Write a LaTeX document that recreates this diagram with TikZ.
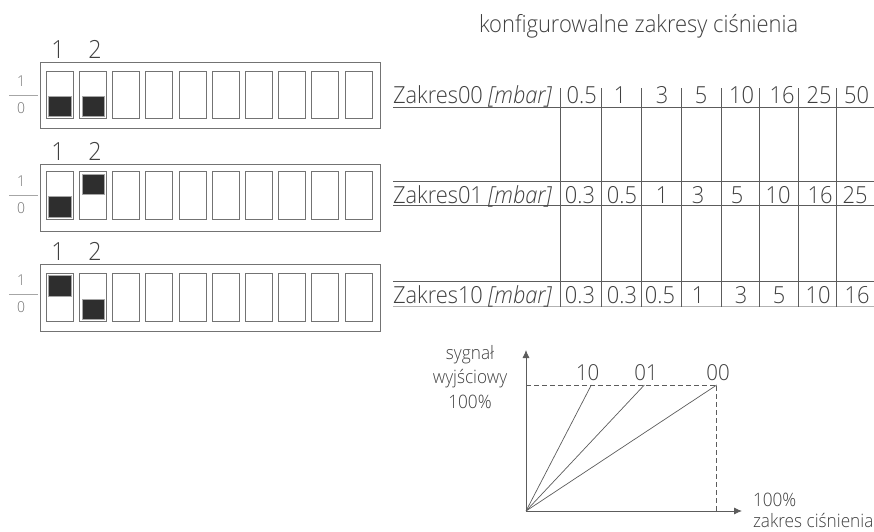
\documentclass[tikz,border=0pt]{standalone}
\usepackage{fontspec}
\setmainfont{Open Sans Light}[ItalicFont={Open Sans Light Italic},FakeStretch=0.93]
\usetikzlibrary{arrows.meta}
\definecolor{ink}{gray}{0.25}
\definecolor{rule}{gray}{0.36}
\definecolor{boxline}{gray}{0.45}
\tikzset{
  txt/.style={inner sep=0pt,outer sep=0pt,text=ink,anchor=base},
  head/.style={txt,font=\fontsize{23.6}{26}\selectfont},
  cell/.style={txt,font=\fontsize{23.5}{26}\selectfont},
  digitlab/.style={txt,font=\fontsize{25}{28}\selectfont},
  curvelab/.style={txt,font=\fontsize{22}{24}\selectfont},
  axlab/.style={txt,font=\fontsize{18.5}{20}\selectfont},
  tick/.style={txt,font=\fontsize{15}{16}\selectfont,text=ink!75},
  rulerline/.style={draw=rule,line width=0.9pt},
  chart/.style={draw=rule,line width=0.8pt},
  dipbox/.style={draw=boxline,line width=0.9pt,fill=white},
  knob/.style={draw=gray!70,line width=0.5pt,fill=black!82},
}
\begin{document}
\begin{tikzpicture}[x=1pt,y=-1pt]
\useasboundingbox (0,0) rectangle (874,531);
% DIP switches
\foreach \n/\ty/\by/\swt/\swb/\lin/\la/\lb/\kax/\kay/\kbx/\kby in {
  a/62/128.7/71/118.7/95.7/86/113.5/48.7/96.3/81.9/96.3,
  b/164/231/171/219/195.3/186.5/213/48.7/196.7/81.9/174.3,
  c/264.3/331/273.7/321.7/294.7/285.5/312/48.7/275.7/81.9/299.3}{
  \draw[dipbox] (40,\ty) rectangle (380.5,\by);
  \foreach \i in {0,...,9}{
    \draw[dipbox] ({46.3+33.2*\i},\swt) rectangle ++(26.9,{\swb-\swt});
  }
  \fill[knob] (\kax,\kay) rectangle ++(22.6,20.2);
  \fill[knob] (\kbx,\kby) rectangle ++(22.6,20.2);
  \draw[rulerline,draw=gray!70] (9.3,\lin) -- (37.7,\lin);
  \node[tick] (o\n) at (21,\la) {1};
  \node[tick] (z\n) at (21,\lb) {0};
  \node[digitlab] (p\n) at (58,{\ty-3.5}) {1};
  \node[digitlab] (q\n) at (95,{\ty-3.5}) {2};
}
% Title
\node[head,anchor=base west] (title) at (479,32) {konfigurowalne zakresy ciśnienia};
% Table
\foreach \y in {107.7,181.7,205.7,281.7}{
  \draw[rulerline] (393,\y) -- (874,\y);
}
\draw[rulerline,draw=gray!60] (393,306.7) -- (874,306.7);
\foreach \x in {560.3,601.7,641.7,681,721,759,798.7,836.7}{
  \draw[rulerline] (\x,88) -- (\x,306.7);
}
\node[cell,anchor=base west] (r0) at (393,103) {Zakres00 \textit{[mbar]}};
\node[cell,anchor=base west] (r1) at (393,203) {Zakres01 \textit{[mbar]}};
\node[cell,anchor=base west] (r2) at (393,303) {Zakres10 \textit{[mbar]}};
\foreach \x/\t in {581.7/0.5,620/1,662/3,701/5,741.7/10,782/16,819/25,856.7/50}
  \node[cell] (a\x) at (\x,103) {\t};
\foreach \x/\t in {580/0.3,622/0.5,662/1,698/3,737/5,778/10,820/16,855/25}
  \node[cell] (b\x) at (\x,203) {\t};
\foreach \x/\t in {580/0.3,622/0.3,660/0.5,698/1,741/3,779/5,818/10,857/16}
  \node[cell] (c\x) at (\x,303) {\t};
% Chart
\coordinate (O) at (526,511);
\coordinate (Yend) at (526,350);
\coordinate (Xend) at (742,511);
\coordinate (Y100) at (526,385);
\coordinate (L10) at (591.3,385);
\coordinate (L01) at (644.3,385);
\coordinate (L00) at (716.7,385);
\coordinate (X100) at (716.7,511);
\draw[chart,-{Latex[length=8pt,width=7pt]}] (O) -- (Yend);
\draw[chart,-{Latex[length=8pt,width=7pt]}] (O) -- (Xend);
\draw[chart,dashed,dash pattern=on 5pt off 3pt] (Y100) -- (L00) -- (X100);
\draw[chart,line width=0.7pt] (O) -- (L10);
\draw[chart,line width=0.7pt] (O) -- (L01);
\draw[chart,line width=0.7pt] (O) -- (L00);
\node[curvelab] (t10) at (587.7,380) {10};
\node[curvelab] (t01) at (646,380) {01};
\node[curvelab] (t00) at (718,380) {00};
\node[axlab] (s1) at (470,359) {sygnał};
\node[axlab] (s2) at (470,383) {wyjściowy};
\node[axlab] (s3) at (470,408) {100\%};
\node[axlab,anchor=base west] (x1) at (753,506) {100\%};
\node[axlab,anchor=base west] (x2) at (753,527.5) {zakres ciśnienia};
\end{tikzpicture}
\end{document}
